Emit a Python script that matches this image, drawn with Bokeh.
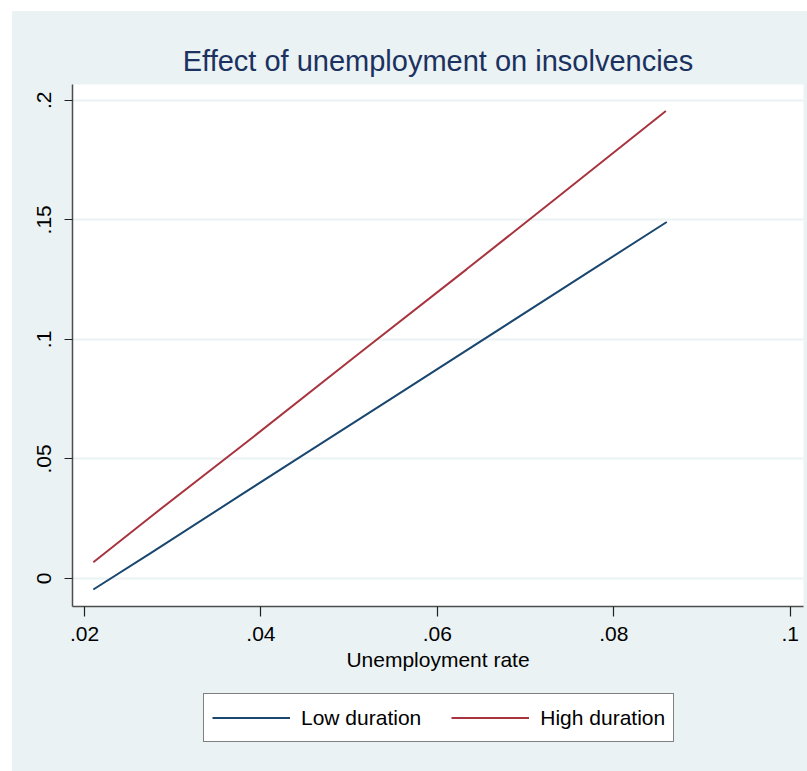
from bokeh.embed import file_html
from bokeh.layouts import column, row
from bokeh.models import Legend, LegendItem, FixedTicker, CustomJSTickFormatter, Spacer
from bokeh.plotting import figure
from bokeh.resources import INLINE

# values
unemp_low = [0.0210, 0.0275, 0.0380, 0.0441, 0.0546, 0.0769, 0.0860]
insolv_low = [-0.0046, 0.0106, 0.0356, 0.0500, 0.0748, 0.1276, 0.1491]
unemp_high = [0.0210, 0.0278, 0.0392, 0.0509, 0.0633, 0.0739, 0.0859]
insolv_high = [0.0068, 0.0267, 0.0594, 0.0935, 0.1293, 0.1603, 0.1955]

x_ticks = [0.02, 0.04, 0.06, 0.08, 0.1]
y_ticks = [0, 0.05, 0.1, 0.15, 0.2]
series_names = ["Low duration", "High duration"]
series_colors = ["#1A476F", "#A8343F"]

FONT = "Liberation Sans"
BG = "#EAF2F3"

p = figure(width=795, height=674, x_range=(0.01864, 0.1015), y_range=(-0.0117, 0.2066),
           output_backend="svg", toolbar_location=None,
           title="Effect of unemployment on insolvencies",
           min_border_left=60, min_border_top=73, min_border_right=4, min_border_bottom=79)

p.border_fill_color = BG
p.background_fill_color = "white"
p.outline_line_color = None

p.title.align = "center"
p.title.text_font = FONT
p.title.text_font_size = "29px"
p.title.text_font_style = "normal"
p.title.text_color = "#1B3160"
p.title.standoff = 15

p.line(unemp_low, insolv_low, line_color=series_colors[0], line_width=2)
p.line(unemp_high, insolv_high, line_color=series_colors[1], line_width=2)

fmt = CustomJSTickFormatter(code="""
    if (tick == 0) return "0";
    return tick.toFixed(2).replace(/0+$/, "").replace(/^0/, "");
""")

p.xaxis.ticker = FixedTicker(ticks=x_ticks)
p.yaxis.ticker = FixedTicker(ticks=y_ticks)
p.xaxis.formatter = fmt
p.yaxis.formatter = fmt
p.xaxis.axis_label = "Unemployment rate"
p.yaxis.major_label_orientation = "vertical"

for ax in (p.xaxis[0], p.yaxis[0]):
    ax.axis_line_color = "#4D4D4D"
    ax.axis_line_width = 1.5
    ax.major_tick_line_color = "#222222"
    ax.major_tick_line_width = 1.2
    ax.minor_tick_line_color = None
    ax.major_tick_in = 0
    ax.major_label_text_font = FONT
    ax.major_label_text_font_size = "21px"
    ax.major_label_text_color = "black"
    ax.axis_label_text_font = FONT
    ax.axis_label_text_font_size = "21px"
    ax.axis_label_text_font_style = "normal"
    ax.axis_label_text_color = "black"

p.xaxis.major_tick_out = 10
p.yaxis.major_tick_out = 8
p.xaxis.major_label_standoff = 10
p.yaxis.major_label_standoff = 13
p.xaxis.axis_label_standoff = 4

p.xgrid.grid_line_color = None
p.ygrid.grid_line_color = BG
p.ygrid.grid_line_width = 2

# legend strip below the chart (frames of the column get aligned)
leg = figure(width=795, height=86, x_range=(0, 1), y_range=(0, 1),
             x_axis_type=None, y_axis_type=None,
             output_backend="svg", toolbar_location=None,
             min_border_left=0, min_border_right=0, min_border_top=0, min_border_bottom=0)
leg.border_fill_color = BG
leg.background_fill_color = BG
leg.outline_line_color = None
leg.grid.visible = False

items = []
for name, color in zip(series_names, series_colors):
    # off-range points, only the legend swatch shows
    r = leg.line([-2, -1], [-2, -1], line_color=color, line_width=2)
    items.append(LegendItem(label=name, renderers=[r]))

legend = Legend(items=items, orientation="horizontal", location=(131, 29))
legend.label_text_font = FONT
legend.label_text_font_size = "21px"
legend.label_text_color = "black"
legend.glyph_width = 78
legend.glyph_height = 31
legend.label_standoff = 11
legend.spacing = 30
legend.padding = 8
legend.margin = 0
legend.border_line_color = "black"
legend.border_line_width = 1
legend.background_fill_color = "white"
legend.background_fill_alpha = 1
leg.add_layout(legend, "center")

chart = column(p, leg, spacing=0, styles={"background-color": BG})
page = column(Spacer(height=11), row(Spacer(width=12), chart), spacing=0)
open("out.html", "w").write(file_html(page, INLINE))
